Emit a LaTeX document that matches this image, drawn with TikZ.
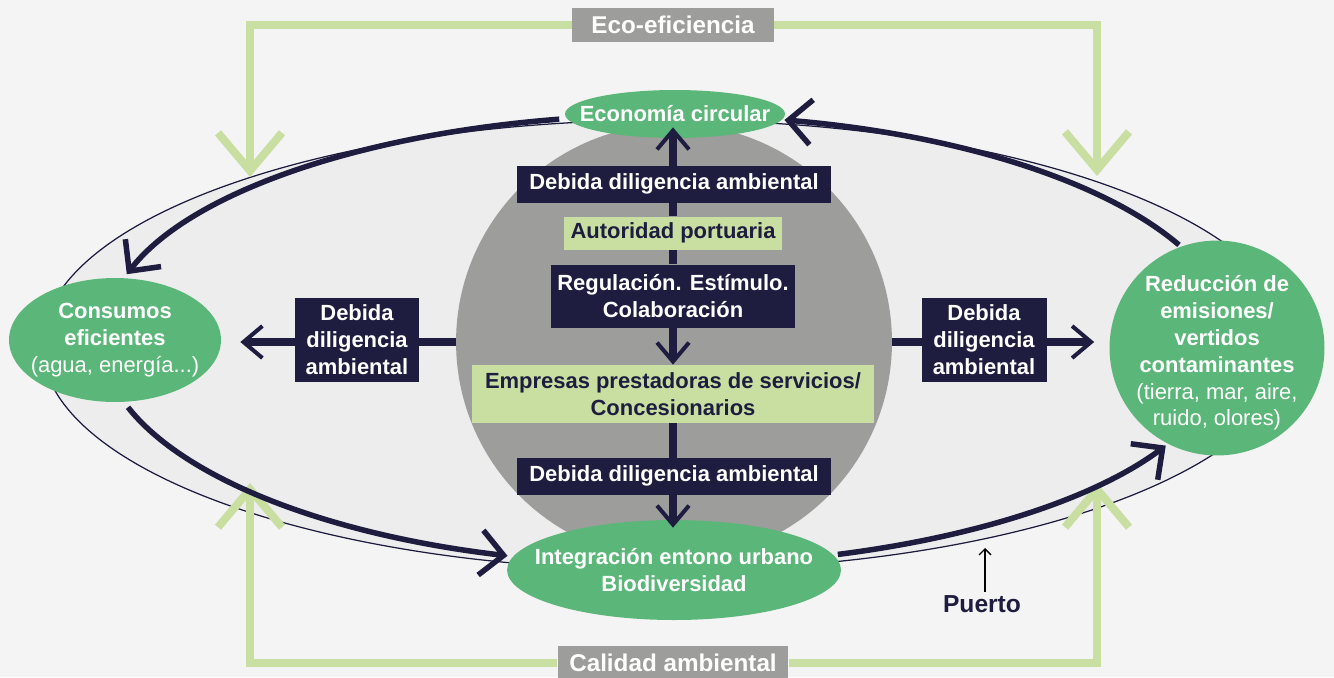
\documentclass[tikz,border=0pt]{standalone}
\usepackage{fontspec}
\setmainfont{Liberation Sans}
\usetikzlibrary{arrows.meta, positioning, shapes.geometric, calc}
\definecolor{navy}{HTML}{1E1D40}
\definecolor{leaf}{HTML}{5BB679}
\definecolor{lime}{HTML}{C9DFA2}
\definecolor{stone}{HTML}{9D9D9C}
\definecolor{paper}{HTML}{F4F4F4}
\definecolor{haze}{HTML}{EDEDED}

\begin{document}
\begin{tikzpicture}[x=0.02cm, y=-0.02cm,
  font=\fontsize{12.5}{15.3}\selectfont\bfseries,
  dbox/.style={fill=navy, text=white, inner sep=0pt, align=center},
  lbox/.style={fill=lime, text=navy, inner sep=0pt, align=center},
  goal/.style={ellipse, fill=leaf, inner sep=0pt},
  goaltext/.style={text=white, inner sep=0pt, align=center},
  tbox/.style={fill=stone, text=white, inner sep=0pt, font=\fontsize{13.8}{16}\selectfont\bfseries},
  shaft/.style={navy, line width=0.16cm, -{Straight Barb[length=0.38cm, width=0.64cm, line width=0.08cm, sharp]}},
  stem/.style={navy, line width=0.16cm},
  loopline/.style={navy, line width=0.11cm, -{Straight Barb[length=0.46cm, width=0.9cm, sharp]}},
  greenframe/.style={lime, line width=0.16cm, -{Straight Barb[length=0.76cm, width=1.28cm, sharp]}}]

  \fill[paper] (0,0) rectangle (1334,677);
  \useasboundingbox (0,0) rectangle (1334,677);

  % Puerto
  \draw[navy, line width=0.025cm, fill=haze] (667,345) ellipse [x radius=12.5cm, y radius=4.5cm];

  % Eco-eficiencia / Calidad ambiental
  \node[tbox, minimum width=4.04cm, minimum height=0.68cm] (eco) at (673,25) {Eco-eficiencia};
  \node[tbox, minimum width=4.62cm, minimum height=0.68cm] (cal) at (673,663) {Calidad ambiental};
  \coordinate (tl) at (250,177);
  \coordinate (tr) at (1097,176);
  \coordinate (bl) at (250,483);
  \coordinate (br) at (1097,483);
  \draw[greenframe] (eco.west) -| (tl);
  \draw[greenframe] (eco.east) -| (tr);
  \draw[greenframe] (cal.west) -| (bl);
  \draw[greenframe] (cal.east) -| (br);

  % Nucleo
  \node[circle, fill=stone, minimum size=8.72cm, inner sep=0pt] (hub) at (674,342) {};

  % Objetivos
  \node[goal, minimum width=4.4cm, minimum height=0.96cm] (econ) at (675,114) {};
  \node[goaltext] (econ-t) at (econ) {Economía circular};
  \node[goal, minimum width=6.68cm, minimum height=2cm] (integ) at (674,570) {};
  \node[goaltext] (integ-t) at (integ) {Integración entono urbano\\Biodiversidad};
  \node[goal, minimum width=4.24cm, minimum height=2.48cm] (cons) at (115,340) {};
  \node[goaltext] (cons-t) at (cons) {Consumos\\eficientes\\\mdseries(agua, energía...)};
  \node[goal, circle, minimum size=4.3cm] (reduc) at (1217,348) {};
  \node[goaltext] (reduc-t) at ($(reduc)+(0,5)$)
    {Reducción de\\emisiones/\\vertidos\\contaminantes\\\mdseries(tierra, mar, aire,\\\mdseries ruido, olores)};

  % Ciclo
  \coordinate (cyc) at (667,340);
  \draw[loopline] ([shift={(101:11.3cm and 4.5cm)}]cyc) arc[start angle=101, end angle=163, x radius=11.3cm, y radius=4.5cm];
  \draw[loopline] ([shift={(197.4:11.3cm and 4.5cm)}]cyc) arc[start angle=197.4, end angle=253.6, x radius=11.3cm, y radius=4.5cm];
  \draw[loopline] ([shift={(287.6:11.3cm and 4.5cm)}]cyc) arc[start angle=287.6, end angle=332, x radius=11.3cm, y radius=4.5cm];
  \draw[loopline] ([shift={(25:11.3cm and 4.5cm)}]cyc) arc[start angle=25, end angle=78, x radius=11.3cm, y radius=4.5cm];

  % Actores
  \node[lbox, minimum width=4.36cm, minimum height=0.66cm] (auto) at (673,233) {Autoridad portuaria};
  \node[dbox, minimum width=4.88cm, minimum height=1.26cm] (reg) at (673,296) {Regulación. Estímulo.\\Colaboración};
  \node[lbox, minimum width=8.04cm, minimum height=1.16cm] (emp) at (673,394) {Empresas prestadoras de servicios/\\Concesionarios};

  \draw[shaft, shorten >=-0.22cm] (auto.north) -- (auto.north |- econ.south);
  \draw[stem] (auto.south) -- (reg.north);
  \draw[shaft] (reg.south) -- (emp.north);
  \draw[shaft, shorten >=-0.16cm] (emp.south) -- (emp.south |- integ.north);
  \draw[shaft, shorten >=0.38cm] (hub.west) -- (hub.west -| cons.east);
  \draw[shaft, shorten >=0.3cm] (hub.east) -- (hub.east -| reduc.west);

  % Debida diligencia
  \node[dbox, minimum width=6.28cm, minimum height=0.74cm] (ddtop) at (674,184) {Debida diligencia ambiental};
  \node[dbox, minimum width=6.28cm, minimum height=0.74cm] (ddbot) at (674,476) {Debida diligencia ambiental};
  \node[dbox, minimum width=2.5cm, minimum height=1.68cm] (ddleft) at (357,340) {Debida\\diligencia\\ambiental};
  \node[dbox, minimum width=2.5cm, minimum height=1.68cm] (ddright) at (984,340) {Debida\\diligencia\\ambiental};

  % Puerto
  \node[text=navy, inner sep=2pt, font=\fontsize{14}{16}\selectfont\bfseries] (puerto) at (982,604) {Puerto};
  \coordinate (shore) at (985,548);
  \draw[black, line width=0.025cm, -{Straight Barb[length=0.12cm, width=0.24cm]}] (puerto.north -| shore) -- (shore);
\end{tikzpicture}
\end{document}
